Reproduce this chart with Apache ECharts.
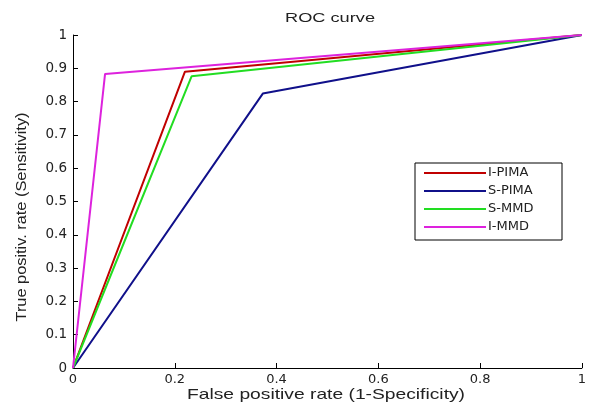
<!DOCTYPE html>
<html><head><meta charset="utf-8">
<script src="https://cdn.jsdelivr.net/npm/echarts@6/dist/echarts.min.js"></script>
<style>html,body{margin:0;padding:0;background:#fff}#c{width:589px;height:405px}</style>
</head><body><div id="c"></div>
<script>
const seriesNames = ['I-PIMA', 'S-PIMA', 'S-MMD', 'I-MMD'];
const fprIPIMA = [0, 0.22, 1];
const tprIPIMA = [0, 0.89, 1];
const fprSPIMA = [0, 0.373, 1];
const tprSPIMA = [0, 0.824, 1];
const fprSMMD = [0, 0.233, 1];
const tprSMMD = [0, 0.876, 1];
const fprIMMD = [0, 0.063, 1];
const tprIMMD = [0, 0.883, 1];
const xTicks = [0, 0.2, 0.4, 0.6, 0.8, 1];
const yTicks = [0, 0.1, 0.2, 0.3, 0.4, 0.5, 0.6, 0.7, 0.8, 0.9, 1];
const titleText = 'ROC curve';
const xName = 'False positive rate (1-Specificity)';
const yName = 'True positiv. rate (Sensitivity)';

const colors = ['#c00000', '#10108a', '#22dd22', '#dd22dd'];
const fprs = [fprIPIMA, fprSPIMA, fprSMMD, fprIMMD];
const tprs = [tprIPIMA, tprSPIMA, tprSMMD, tprIMMD];
const font = 'Liberation Sans, Arial, sans-serif';
const tickFont = 'DejaVu Sans, sans-serif';

const mctx = document.createElement('canvas').getContext('2d');
function fitScale(text, size, target) {
  mctx.font = size + 'px ' + font;
  return target / mctx.measureText(text).width;
}

function stretchedText(text, size, cx, cy, target, rot) {
  return {type: 'text', x: cx, y: cy, rotation: rot || 0,
    scaleX: fitScale(text, size, target), scaleY: 1,
    style: {text: text, font: size + 'px ' + font, fill: '#222', align: 'center', verticalAlign: 'middle'},
    silent: true, z: 10};
}

const chart = echarts.init(document.getElementById('c'), null, {renderer: 'canvas'});
chart.setOption({
  animation: false,
  backgroundColor: '#fff',
  grid: {left: 73, right: 6, top: 35, bottom: 37},
  graphic: [
    stretchedText(titleText, 12.5, 330, 18.5, 90),
    stretchedText(xName, 14.5, 326, 395, 278),
    stretchedText(yName, 14, 22, 217, 209, Math.PI / 2)
  ],
  xAxis: {type: 'value', min: 0, max: 1, interval: 0.2,
    axisLine: {lineStyle: {color: '#000', width: 1}},
    axisTick: {inside: true, length: 5, lineStyle: {color: '#000'}},
    axisLabel: {fontFamily: tickFont, fontSize: 13, color: '#222', margin: 5,
      formatter: v => xTicks.includes(+v.toFixed(2)) ? String(+v.toFixed(2)) : ''},
    splitLine: {show: false}},
  yAxis: {type: 'value', min: 0, max: 1, interval: 0.1,
    axisLine: {show: true, lineStyle: {color: '#000', width: 1}},
    axisTick: {show: true, inside: true, length: 5, lineStyle: {color: '#000'}},
    axisLabel: {fontFamily: tickFont, fontSize: 13.5, color: '#222', margin: 6,
      formatter: v => yTicks.includes(+v.toFixed(2)) ? String(+v.toFixed(2)) : ''},
    splitLine: {show: false}},
  legend: {orient: 'vertical', left: 415, top: 163, data: seriesNames,
    icon: 'rect', itemWidth: 62, itemHeight: 2, itemGap: 4,
    backgroundColor: '#fff', borderColor: '#000', borderWidth: 1, borderRadius: 0,
    padding: [3, 4, 6, 9],
    textStyle: {fontFamily: tickFont, fontSize: 13, color: '#222', lineHeight: 14, width: 70, padding: [0, 0, 0, -3]}},
  series: seriesNames.map((n, i) => ({
    name: n, type: 'line', showSymbol: false, symbol: 'none',
    data: fprs[i].map((x, j) => [x, tprs[i][j]]),
    lineStyle: {color: colors[i], width: 2}, itemStyle: {color: colors[i]}
  }))
});
</script></body></html>
